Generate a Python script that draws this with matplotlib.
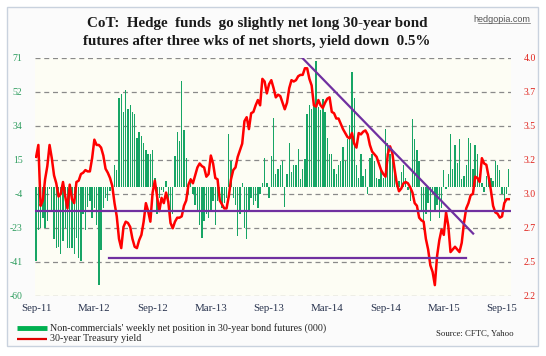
import matplotlib
matplotlib.use("Agg")
import matplotlib.pyplot as plt
import numpy as np
from matplotlib.lines import Line2D
from matplotlib.patches import Rectangle

# ---------------- data ----------------
x_tick_labels = ["Sep-11", "Mar-12", "Sep-12", "Mar-13", "Sep-13",
                 "Mar-14", "Sep-14", "Mar-15", "Sep-15"]
left_tick_labels = ["-60", "-41", "-23", "-4", "15", "34", "52", "71"]
right_tick_labels = ["2.2", "2.5", "2.7", "3.0", "3.2", "3.5", "3.7", "4.0"]

# Non-commercials' weekly net position in 30-year bond futures (000)
net_position = [
    -41, -24, -23, -17, -23, -19, -1, -13, -29, -34,
    -33, -37, -30, -23, -34, -34, -34, -37, -28, -39,
    -41, -15, -24, -11, -8, -17, -12, -21, -54, -35,
    -12, -6, -8, -2.5, -4, 12, 9, 49, 51, 41,
    53, 43, 45, 41, 40, 27, 30, 28, 24, 20,
    18, 18, 20, 5, -15, -6, -2, -3, 3, -8,
    -17, -15, 17, 30, 25, 58, 31, 16, -4, 5,
    -4, -10, -13, -21, -28, -19, -15, -17, -13, -8,
    -21, -8, -4, -12, -9, -6, 29, 14, -6, -10,
    -27, -15, 2, -23, -29, -13, -6, -10, -8, -12,
    -4, 2, 16, 2, -6, 17, 38, 7, 10, 12,
    14, -11, 7, 24, 8, 12, 12, 21, 4, 10,
    15, 40, 45, 43, 45, 69, 44, 42, 48, 41,
    27, 18, 18, 10, 7, 12, 14, 22, 14, 26,
    34, 63, 49, 12, 5, 18, 6, 10, -4, 16,
    18, 14, 5, 4, 10, 5, 32, 24, 18, 20,
    12, 4, 3, 8, 12, 5, -2, -8, 37, 26,
    20, 14, -13, -24, -15, -9, -19, -4, -13, -10,
    -17, -12, 9, -1.5, 7, 29, 10, 23, 13, 26,
    4, 6, 12, 27, 24, 10, 23, 18, 7, 2,
    -3, 6, 4, 5, 3, 14, 12, 9, -4, -8,
    -4, 10,
]

# 30-year Treasury yield (%)
treasury_yield = [
    3.25, 3.34, 2.88, 2.92, 3.08, 3.18, 3.34, 3.24, 3.11, 3.05,
    2.95, 2.97, 3.06, 2.95, 2.86, 3.04, 2.93, 2.90, 3.06, 3.07,
    3.12, 3.13, 3.15, 3.14, 3.14, 3.24, 3.38, 3.34, 3.34, 3.32,
    3.26, 3.16, 3.13, 3.09, 3.03, 2.90, 2.80, 2.63, 2.56, 2.72,
    2.76, 2.75, 2.72, 2.63, 2.57, 2.56, 2.62, 2.66, 2.76, 2.90,
    2.84, 2.76, 2.98, 3.07, 2.95, 2.84, 2.94, 2.90, 2.98, 2.91,
    2.75, 2.71, 2.76, 2.79, 2.79, 2.80, 2.88, 2.92, 3.04, 3.08,
    3.05, 3.11, 3.17, 3.20, 3.18, 3.17, 3.10, 3.12, 3.26, 3.20,
    3.09, 3.08, 2.92, 2.89, 2.86, 2.86, 2.95, 3.08, 3.15, 3.17,
    3.25, 3.30, 3.35, 3.52, 3.55, 3.46, 3.58, 3.59, 3.64, 3.68,
    3.64, 3.84, 3.82, 3.73, 3.80, 3.83, 3.77, 3.70, 3.72, 3.71,
    3.66, 3.61, 3.66, 3.77, 3.83, 3.82, 3.83, 3.86, 3.87, 3.87,
    3.92, 3.92, 3.84, 3.79, 3.64, 3.63, 3.68, 3.64, 3.62, 3.66,
    3.69, 3.70, 3.59, 3.58, 3.54, 3.54, 3.50, 3.46, 3.43, 3.40,
    3.39, 3.43, 3.35, 3.32, 3.43, 3.42, 3.44, 3.45, 3.42, 3.34,
    3.29, 3.27, 3.25, 3.20, 3.15, 3.12, 3.10, 3.27, 3.33, 3.28,
    3.16, 3.05, 2.99, 3.01, 3.05, 3.06, 3.05, 3.02, 2.98, 2.90,
    2.88, 2.79, 2.77, 2.76, 2.63, 2.55, 2.43, 2.38, 2.28, 2.50,
    2.62, 2.70, 2.66, 2.83, 2.73, 2.53, 2.55, 2.57, 2.55, 2.53,
    2.60, 2.75, 2.86, 2.90, 2.96, 2.97, 3.10, 3.09, 3.06, 3.24,
    3.20, 3.19, 3.10, 3.00, 2.88, 2.83, 2.82, 2.79, 2.80, 2.90,
    2.93, 2.93,
]

# purple support / resistance lines (week index, yield)
upper_support_level = 2.843
lower_support_level = 2.483
lower_support_span = [32.6, 192.0]
trendline_weeks = [118.75, 195.1]
trendline_yields = [4.0, 2.67]

weeks_per_label = 26

# ---------------- figure ----------------
W, H = 546, 356
fig = plt.figure(figsize=(W / 100, H / 100), dpi=100)
fig.patch.set_facecolor("white")
serif = ["Liberation Serif", "DejaVu Serif"]

# outer border
fig.patches.append(Rectangle((7 / W, 1 - 346 / H), (538 - 7) / W, (346 - 7) / H,
                             transform=fig.transFigure, facecolor="#fbfbfb",
                             edgecolor="#c9d2de", linewidth=1.0, zorder=0))

ax = fig.add_axes([35 / W, 1 - 295.7 / H, (511 - 35) / W, (295.7 - 57.7) / H])
ax.set_facecolor("#fdfdf4")
ax2 = ax.twinx()

n = len(net_position)
weeks = np.arange(n)

lmin, lmax = -60, 71
rmin, rmax = 2.2, 4.0
ax.set_ylim(lmin, lmax)
ax2.set_ylim(rmin, rmax)
ax.set_xlim(-0.5, 212)

lticks = np.linspace(lmin, lmax, len(left_tick_labels))
rticks = np.linspace(rmin, rmax, len(right_tick_labels))
ax.set_yticks(lticks)
ax.set_yticklabels(left_tick_labels)
ax2.set_yticks(rticks)
ax2.set_yticklabels(right_tick_labels)

for v in lticks:
    ax.axhline(v, color="#8a8a8a", linestyle=(0, (4, 3)), linewidth=0.9, zorder=0.5)

ax.bar(weeks, net_position, width=0.62, color="#17a565", linewidth=0, zorder=2)

ax2.plot(weeks, treasury_yield, color="#ff0000", linewidth=1.8, zorder=4,
         solid_joinstyle="round")

purple = "#7030a0"
ax2.axhline(upper_support_level, color=purple, linewidth=1.6, zorder=5)
ax2.plot(lower_support_span, [lower_support_level] * 2, color=purple, linewidth=1.6, zorder=5)
ax2.plot(trendline_weeks, trendline_yields, color=purple, linewidth=1.6, zorder=5)
ax2.set_xlim(-0.5, 212)

ax.set_xticks(np.arange(len(x_tick_labels)) * weeks_per_label)
ax.set_xticklabels(x_tick_labels)

for a in (ax, ax2):
    for s in a.spines.values():
        s.set_visible(False)
    a.tick_params(length=0)

ax.tick_params(axis="x", pad=6, labelsize=7.8, labelcolor="#27324d")
ax.tick_params(axis="y", pad=9, labelsize=7, labelcolor="#2e9d5f")
ax2.tick_params(axis="y", pad=9, labelsize=7, labelcolor="#e0231c")
for lab in ax.get_xticklabels() + ax.get_yticklabels() + ax2.get_yticklabels():
    lab.set_family(serif)

ax.set_zorder(1)
ax2.set_zorder(2)
ax2.patch.set_visible(False)

# title
fig.text(257 / W, 1 - 23 / H, "CoT:  Hedge  funds  go slightly net long 30-year bond",
         ha="center", va="center", fontsize=10.8, fontweight="bold", family=serif,
         color="#1a1a1a")
fig.text(257 / W, 1 - 42 / H, "futures after three wks of net shorts, yield down  0.5%",
         ha="center", va="center", fontsize=10.8, fontweight="bold", family=serif,
         color="#1a1a1a")
fig.text(530 / W, 1 - 19 / H, "hedgopia.com", ha="right", va="center", fontsize=6.5,
         family=["Liberation Sans", "DejaVu Sans"], color="#555555")
fig.add_artist(Line2D([478 / W, 530 / W], [1 - 23 / H, 1 - 23 / H],
                      transform=fig.transFigure, color="#666666", linewidth=0.5))

# legend (manual)
fig.add_artist(Line2D([17 / W, 47 / W], [1 - 328 / H] * 2, transform=fig.transFigure,
                      color="#00b050", linewidth=3.5, solid_capstyle="butt"))
fig.add_artist(Line2D([17 / W, 47 / W], [1 - 338.5 / H] * 2, transform=fig.transFigure,
                      color="#e00000", linewidth=1.6, solid_capstyle="butt"))
fig.text(50 / W, 1 - 328 / H,
         "Non-commercials' weekly net position in 30-year bond futures (000)",
         ha="left", va="center", fontsize=7.2, family=serif, color="#222222")
fig.text(50 / W, 1 - 338.5 / H, "30-year Treasury yield",
         ha="left", va="center", fontsize=7.2, family=serif, color="#222222")
fig.text(514 / W, 1 - 334 / H, "Source: CFTC, Yahoo", ha="right", va="center",
         fontsize=6.3, family=serif, color="#222222")

fig.savefig("out.png", dpi=100, facecolor=fig.get_facecolor())
